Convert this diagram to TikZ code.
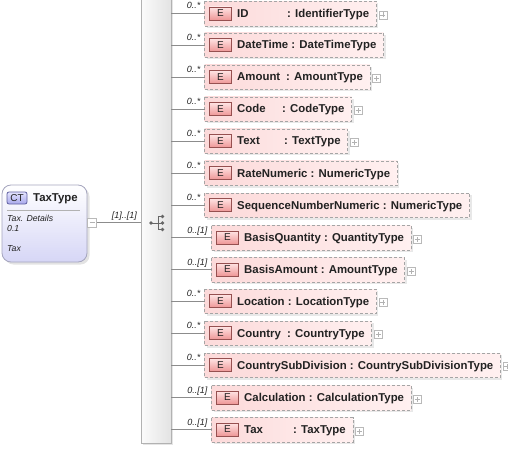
\documentclass[tikz,border=0pt]{standalone}
\usepackage{fontspec}
\setmainfont{Liberation Sans}
\usetikzlibrary{calc}
\pgfdeclarelayer{background}
\pgfsetlayers{background,main}
\definecolor{elL}{RGB}{252,218,218}
\definecolor{elR}{RGB}{255,240,240}
\definecolor{bdgA}{RGB}{255,228,228}
\definecolor{bdgB}{RGB}{238,150,150}
\definecolor{bdgD}{RGB}{150,80,80}
\definecolor{dashgray}{RGB}{165,165,165}
\definecolor{txt}{RGB}{34,34,34}
\definecolor{conngray}{RGB}{140,140,140}
\definecolor{ctA}{RGB}{255,255,255}
\definecolor{ctB}{RGB}{214,214,246}
\definecolor{ctD}{RGB}{165,165,190}
\definecolor{ctbA}{RGB}{228,228,255}
\definecolor{ctbB}{RGB}{168,168,235}
\definecolor{ctbD}{RGB}{95,95,160}
\tikzset{
  eltext/.style={inner sep=0pt, font=\fontsize{11.4}{13}\selectfont\bfseries, text=txt},
  badge/.style={draw=bdgD, top color=bdgA, bottom color=bdgB, minimum width=22pt, minimum height=13pt, inner sep=0pt, font=\fontsize{10}{12}\selectfont, text=txt, line width=0.8pt},
  mult/.style={inner sep=0pt, font=\fontsize{9}{11}\selectfont\itshape, text=txt},
  ann/.style={inner sep=0pt, font=\fontsize{8.7}{10}\selectfont\itshape, text=txt},
  connline/.style={draw=conngray, line width=0.8pt},
  elbox/.style={draw=dashgray, dash pattern=on 3pt off 2pt, line width=0.8pt, left color=elL, right color=elR},
  elshadow/.style={fill=gray!18},
  plusbox/.style={draw=gray!55, fill=white, minimum size=8pt, inner sep=0pt, line width=0.6pt},
  seqbar/.style={draw=gray!60, left color=gray!3, right color=gray!22, minimum width=30pt, minimum height=445pt, inner sep=0pt, line width=0.8pt},
  ctbox/.style={draw=ctD, top color=ctA, bottom color=ctB, rounded corners=9pt, minimum width=85pt, minimum height=77pt, inner sep=0pt, line width=0.8pt},
  ctbadge/.style={draw=ctbD, top color=ctbA, bottom color=ctbB, rounded corners=2pt, minimum width=20pt, minimum height=12pt, inner sep=0pt, font=\fontsize{10}{12}\selectfont, text=txt, line width=0.8pt},
}
\newcommand{\elrow}[8]{%
  \node[badge] (#1-b) at (#3+16,#2) {E};
  \if\relax\detokenize{#6}\relax
    \node[eltext, anchor=base west] (#1-t) at (#3+32.5,#2+4) {#4 : #5};
  \else
    \node[eltext, anchor=base west] (#1-n) at (#3+32.5,#2+4) {#4};
    \node[eltext, anchor=base west] (#1-t) at (#6,#2+4) {: #5};
  \fi
  \coordinate (#1-w) at (#3,#2);
  \coordinate (#1-e) at (#1-t.east |- #1-w);
  \coordinate (#1-r) at ([xshift=7pt]#1-e);
  \begin{pgfonlayer}{background}
    \fill[elshadow] (#3+2,#2-10) rectangle ([xshift=2pt,yshift=-14.5pt]#1-r);
    \draw[elbox] (#3,#2-12) rectangle ([yshift=-12.5pt]#1-r);
  \end{pgfonlayer}
  \ifnum#7=1\relax
    \node[plusbox] (#1-p) at ([xshift=6.5pt,yshift=-1.5pt]#1-r) {};
    \draw[gray!60, line width=0.6pt] ([xshift=-2.5pt]#1-p.center) -- ([xshift=2.5pt]#1-p.center)
      ([yshift=-2.5pt]#1-p.center) -- ([yshift=2.5pt]#1-p.center);
  \fi
  \draw[connline] (seqbar-n.east |- #1-w) -- (#1-w);
  \node[mult, anchor=base east] (#1-m) at (#3-4,#2-4.5) {#8};
}
\begin{document}
\begin{tikzpicture}[x=1pt,y=-1pt]
\useasboundingbox (0,0) rectangle (508,449);
% sequence bar
\fill[gray!20] (143,0) rectangle (173,445);
\node[seqbar] (seqbar-n) at (156,220.5) {};
% sequence icon
\fill[gray!80!black] (151,223) circle (1.9);
\draw[gray!80!black, line width=0.9pt] (151,223) -- (158,223) (158,216.5) -- (158,229.5)
  (158,216.5) -- (162.5,216.5) (158,229.5) -- (162.5,229.5) (158,223) -- (162.5,223);
\fill[gray!80!black] (162.5,216.5) circle (1.9) (162.5,223) circle (1.9) (162.5,229.5) circle (1.9);
% complex type box
\fill[gray!22, rounded corners=9pt] (4.5,187.5) rectangle (89.5,264.5);
\node[ctbox] (ct) at (44.5,223.5) {};
\node[ctbadge] (ctb) at (17,198) {CT};
\node[eltext, anchor=base west] (ctn) at (33,201.5) {TaxType};
\draw[gray!60, line width=0.7pt] (7,210) -- (80,210);
\node[ann, anchor=base west] (ann1) at (7,221) {Tax. Details};
\node[ann, anchor=base west] (ann2) at (7,231) {0.1};
\node[ann, anchor=base west] (ann3) at (7,251.5) {Tax};
\node[plusbox, minimum size=9pt] (ctm) at (92,222.5) {};
\draw[gray!60, line width=0.6pt] ([xshift=-2.5pt]ctm.center) -- ([xshift=2.5pt]ctm.center);
\draw[connline] (ctm.east) -- (seqbar-n.west |- ctm.east);
\node[mult, anchor=base east] (ctmult) at (137,218.5) {[1]..[1]};
% elements
\elrow{id}{13.5}{204.5}{ID}{IdentifierType}{287}{1}{0..*}
\elrow{dt}{45}{204.5}{DateTime}{DateTimeType}{}{0}{0..*}
\elrow{am}{77}{204.5}{Amount}{AmountType}{286}{1}{0..*}
\elrow{cd}{109}{204.5}{Code}{CodeType}{282}{1}{0..*}
\elrow{tx}{141}{204.5}{Text}{TextType}{284}{1}{0..*}
\elrow{rn}{173}{204.5}{RateNumeric}{NumericType}{}{0}{0..*}
\elrow{sn}{205}{204.5}{SequenceNumberNumeric}{NumericType}{}{0}{0..*}
\elrow{bq}{237.5}{211.5}{BasisQuantity}{QuantityType}{}{1}{0..[1]}
\elrow{ba}{269.5}{211.5}{BasisAmount}{AmountType}{}{1}{0..[1]}
\elrow{lo}{301}{204.5}{Location}{LocationType}{}{1}{0..*}
\elrow{co}{333}{204.5}{Country}{CountryType}{287}{1}{0..*}
\elrow{cs}{365}{204.5}{CountrySubDivision}{CountrySubDivisionType}{}{1}{0..*}
\elrow{ca}{397.5}{211.5}{Calculation}{CalculationType}{}{1}{0..[1]}
\elrow{ta}{429.5}{211.5}{Tax}{TaxType}{293}{1}{0..[1]}
\end{tikzpicture}
\end{document}
